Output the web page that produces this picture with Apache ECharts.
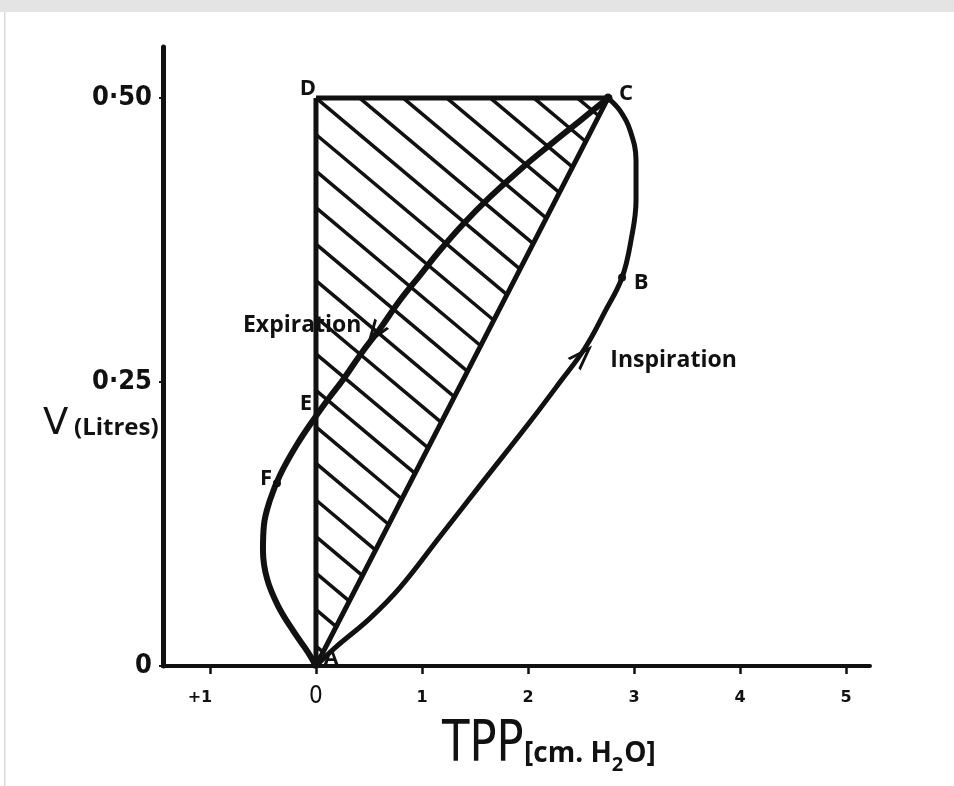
<!DOCTYPE html>
<html><head><meta charset="utf-8">
<script src="https://cdn.jsdelivr.net/npm/echarts@6/dist/echarts.min.js"></script>
<style>html,body{margin:0;padding:0;background:#fff}#c{width:954px;height:786px}</style>
</head><body><div id="c"></div>
<script>
// ---- data ----
const xTickValues = [-1, 0, 1, 2, 3, 4, 5];
const xTickLabels = ['+1', '0', '1', '2', '3', '4', '5'];
const yTickValues = [0, 0.25, 0.5];
const yTickLabels = ['0', '0·25', '0·50'];

const inspirationX = [0, 0.179, 0.509, 0.792, 1.17, 1.547, 2.019, 2.302, 2.538, 2.726, 2.887, 2.972, 3.019, 3.019, 2.962, 2.868, 2.755];
const inspirationY = [0, 0.016, 0.042, 0.069, 0.114, 0.159, 0.215, 0.250, 0.280, 0.312, 0.342, 0.375, 0.410, 0.445, 0.472, 0.489, 0.50];

const expirationX = [2.755, 2.49, 2.236, 1.925, 1.642, 1.387, 1.17, 0.981, 0.792, 0.604, 0.425, 0.255, 0.123, 0, -0.179, -0.34, -0.434, -0.491, -0.50, -0.462, -0.358, -0.208, -0.075, 0];
const expirationY = [0.50, 0.480, 0.461, 0.437, 0.413, 0.389, 0.366, 0.344, 0.322, 0.297, 0.275, 0.252, 0.236, 0.220, 0.195, 0.168, 0.146, 0.124, 0.102, 0.077, 0.053, 0.030, 0.012, 0];

const pointNames = ['A', 'B', 'C', 'D', 'E', 'F'];
const pointX = [0, 2.887, 2.755, 0, 0, -0.368];
const pointY = [0, 0.342, 0.50, 0.50, 0.220, 0.161];

const workTriangleX = [0, 2.755, 0];      // D, C, A
const workTriangleY = [0.50, 0.50, 0];

const phaseNames = ['Expiration', 'Inspiration'];
const phaseX = [-0.13, 3.373];
const phaseY = [0.300, 0.269];

const arrowX = [0.55, 2.52];
const arrowY = [0.292, 0.274];

const xNameParts = ['TPP', '[cm. H', '2', 'O]'];
const yNameParts = ['V', '(Litres)'];

// ---- styles ----
const INK = '#111';
const labelOffset = {A: [15, -7], B: [19, 5], C: [18, -4], D: [-8, -9], E: [-10, -12], F: [-11, -4]};
const dotSize = {A: 0, B: 8, C: 9, D: 0, E: 0, F: 8};
const arrowRotate = [145, -44];
const chevron = 'path://M5,0 L10,10 L8.3,10 L5,3.4 L1.7,10 L0,10 Z';

const ctx = document.createElement('canvas').getContext('2d');
function textWidth(t, font) { ctx.font = font; return ctx.measureText(t).width; }
const unitFont = 'bold 28px "Open Sans"';
const subFont = 'bold 20px "Open Sans"';
const unitX0 = 524;
const unitX1 = unitX0 + textWidth(xNameParts[1], unitFont);
const unitX2 = unitX1 + textWidth(xNameParts[2], subFont) + 1;

const chart = echarts.init(document.getElementById('c'), null, {renderer: 'canvas'});

const zip = (xs, ys) => xs.map((x, i) => [x, ys[i]]);

const option = {
  animation: false,
  backgroundColor: '#fff',
  grid: {left: 163, right: 84, top: 47, bottom: 120},
  xAxis: {
    type: 'value', min: -1.443, max: 5.226,
    splitLine: {show: false},
    axisLine: {show: true, onZero: false, lineStyle: {color: INK, width: 4}},
    axisTick: {show: true, customValues: xTickValues, length: 8, lineStyle: {color: INK, width: 2.5}},
    axisLabel: {
      customValues: xTickValues, margin: 18, color: INK,
      formatter: v => {
        const i = xTickValues.indexOf(Math.round(v));
        const s = xTickLabels[i];
        if (v === 0) return '{z|' + s + '}';
        if (v < 0) return '{p|' + s + '}';
        return '{b|' + s + '}';
      },
      rich: {
        z: {fontFamily: 'DejaVu Sans Condensed, DejaVu Sans', fontSize: 24, lineHeight: 26, color: INK},
        b: {fontFamily: 'DejaVu Sans', fontWeight: 'bold', fontSize: 16, lineHeight: 20, padding: [7, 0, 0, 0], color: INK},
        p: {fontFamily: 'DejaVu Sans', fontWeight: 'bold', fontSize: 16, lineHeight: 20, padding: [7, 20, 0, 0], color: INK}
      }
    }
  },
  yAxis: {
    type: 'value', min: 0, max: 0.545,
    splitLine: {show: false},
    axisLine: {show: true, onZero: false, lineStyle: {color: INK, width: 5}},
    axisTick: {show: true, customValues: yTickValues, length: 4, lineStyle: {color: INK, width: 2}},
    axisLabel: {
      customValues: yTickValues, margin: 11, color: INK,
      fontFamily: 'DejaVu Sans Condensed, DejaVu Sans', fontWeight: 'bold', fontSize: 27,
      padding: [0, 0, 10, 0],
      formatter: v => yTickLabels[yTickValues.findIndex(t => Math.abs(t - v) < 1e-6)]
    }
  },
  graphic: [
    {type: 'rect', left: 0, top: 0, shape: {width: 954, height: 12}, style: {fill: '#e4e4e4'}, silent: true},
    {type: 'rect', left: 4, top: 12, shape: {width: 1.5, height: 774}, style: {fill: '#dcdcdc'}, silent: true},
    {type: 'text', x: 43, y: 424, style: {text: yNameParts[0], fontFamily: 'DejaVu Sans', fontSize: 37, fill: INK, align: 'left', verticalAlign: 'middle'}},
    {type: 'text', x: 74, y: 428, style: {text: yNameParts[1], fontFamily: 'Open Sans', fontWeight: 'bold', fontSize: 24, fill: INK, align: 'left', verticalAlign: 'middle'}},
    {type: 'text', x: 442, y: 746, scaleY: 1.15, style: {text: xNameParts[0], fontFamily: 'DejaVu Sans Condensed, DejaVu Sans', fontSize: 50, fill: INK, align: 'left', verticalAlign: 'middle'}},
    {type: 'text', x: unitX0, y: 754, style: {text: xNameParts[1], font: unitFont, fill: INK, align: 'left', verticalAlign: 'middle'}},
    {type: 'text', x: unitX1, y: 765, style: {text: xNameParts[2], font: subFont, fill: INK, align: 'left', verticalAlign: 'middle'}},
    {type: 'text', x: unitX2, y: 754, style: {text: xNameParts[3], font: unitFont, fill: INK, align: 'left', verticalAlign: 'middle'}}
  ],
  series: [
    {
      name: 'work hatch', type: 'custom', data: [[0]], silent: true, z: 1,
      renderItem: function (params, api) {
        const pts = workTriangleX.map((x, i) => api.coord([x, workTriangleY[i]]));
        const ang = 40 * Math.PI / 180;
        const d = [Math.cos(ang), Math.sin(ang)];
        const n = [-Math.sin(ang), Math.cos(ang)];
        const proj = pts.map(p => p[0] * n[0] + p[1] * n[1]);
        const lo = Math.min.apply(null, proj), hi = Math.max.apply(null, proj);
        const step = 28;
        const children = [];
        for (let s = lo + step * 0.7; s < hi - 4; s += step) {
          const base = [n[0] * s, n[1] * s];
          const ts = [];
          for (let i = 0; i < pts.length; i++) {
            const a = pts[i], b = pts[(i + 1) % pts.length];
            const e = [b[0] - a[0], b[1] - a[1]];
            const r = [a[0] - base[0], a[1] - base[1]];
            const det = -d[0] * e[1] + e[0] * d[1];
            if (Math.abs(det) < 1e-9) continue;
            const t = (-r[0] * e[1] + e[0] * r[1]) / det;
            const u = (d[0] * r[1] - d[1] * r[0]) / det;
            if (u >= -1e-6 && u <= 1 + 1e-6) ts.push(t);
          }
          if (ts.length < 2) continue;
          const t0 = Math.min.apply(null, ts), t1 = Math.max.apply(null, ts);
          if (t1 - t0 < 3) continue;
          children.push({
            type: 'line',
            shape: {x1: base[0] + t0 * d[0], y1: base[1] + t0 * d[1], x2: base[0] + t1 * d[0], y2: base[1] + t1 * d[1]},
            style: {stroke: INK, lineWidth: 3.5}
          });
        }
        return {type: 'group', children: children};
      }
    },
    {
      name: 'work triangle', type: 'line', z: 3, symbol: 'none',
      data: zip(workTriangleX.concat([workTriangleX[0]]), workTriangleY.concat([workTriangleY[0]])),
      lineStyle: {color: INK, width: 5, join: 'miter'}
    },
    {
      name: 'Inspiration', type: 'line', z: 4, symbol: 'none', smooth: 0.4,
      data: zip(inspirationX, inspirationY),
      lineStyle: {color: INK, width: 5}
    },
    {
      name: 'Expiration', type: 'line', z: 4, symbol: 'none', smooth: 0.4,
      data: zip(expirationX, expirationY),
      lineStyle: {color: INK, width: 6}
    },
    {
      name: 'points', type: 'scatter', z: 6,
      data: pointNames.map((nm, i) => ({
        name: nm, value: [pointX[i], pointY[i]], symbolSize: dotSize[nm],
        label: {offset: labelOffset[nm]}
      })),
      itemStyle: {color: INK, opacity: 1},
      label: {show: true, position: 'inside', formatter: p => p.name, color: INK, opacity: 1,
        fontFamily: 'Open Sans', fontWeight: 'bold', fontSize: 22}
    },
    {
      name: 'phases', type: 'scatter', z: 6, symbolSize: 0,
      itemStyle: {opacity: 1},
      data: phaseNames.map((nm, i) => ({name: nm, value: [phaseX[i], phaseY[i]]})),
      label: {show: true, position: 'inside', formatter: p => p.name, color: INK, opacity: 1,
        fontFamily: 'Open Sans', fontWeight: 'bold', fontSize: 23}
    },
    {
      name: 'arrows', type: 'scatter', z: 7, symbol: chevron, symbolSize: [18, 26],
      data: arrowX.map((x, i) => ({value: [x, arrowY[i]], symbolRotate: arrowRotate[i]})),
      itemStyle: {color: INK, opacity: 1}
    }
  ]
};
chart.setOption(option);
</script>
</body></html>
